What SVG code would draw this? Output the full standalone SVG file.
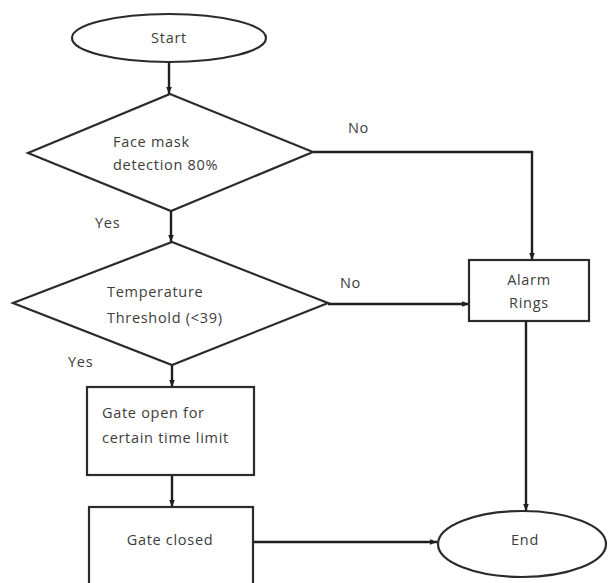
<svg xmlns="http://www.w3.org/2000/svg" width="608" height="583" viewBox="0 0 608 583">
<style>
.shape{fill:#fff;stroke:#2b2b2b;stroke-width:2.2}
.conn{fill:none;stroke:#1f1f1f;stroke-width:2.4}
.t{font-family:"Open Sans","DejaVu Sans",sans-serif;font-size:14.5px;fill:#3c3c3c;letter-spacing:0.7px}
.c{text-anchor:middle}
</style>
<defs>
<marker id="ah" viewBox="0 0 10 10" refX="10" refY="5" markerWidth="7" markerHeight="7" markerUnits="userSpaceOnUse" orient="auto">
<path d="M0,1 L10,5 L0,9 Z" fill="#1f1f1f"/>
</marker>
</defs>
<rect width="608" height="583" fill="#fff"/>
<g id="connectors">
<path class="conn" d="M169,62 L169,94" marker-end="url(#ah)"/>
<path class="conn" d="M171,211 L171,242" marker-end="url(#ah)"/>
<path class="conn" d="M172,365 L172,387" marker-end="url(#ah)"/>
<path class="conn" d="M172,475 L172,507" marker-end="url(#ah)"/>
<path class="conn" d="M313,152 L532,152 L532,260" marker-end="url(#ah)"/>
<path class="conn" d="M328,304 L469,304" marker-end="url(#ah)"/>
<path class="conn" d="M526,321 L526,511" marker-end="url(#ah)"/>
<path class="conn" d="M253,542 L437,542" marker-end="url(#ah)"/>
<text class="t" x="348" y="133">No</text>
<text class="t" x="340" y="288">No</text>
<text class="t" x="95" y="228">Yes</text>
<text class="t" x="68" y="367">Yes</text>
</g>
<g id="start">
<ellipse class="shape" cx="169" cy="38" rx="97" ry="24"/>
<text class="t c" x="169" y="43">Start</text>
</g>
<g id="facemask">
<polygon class="shape" points="170,94 313,152 171,211 28,153"/>
<text class="t" x="113" y="147">Face mask</text>
<text class="t" x="113" y="170">detection 80%</text>
</g>
<g id="temperature">
<polygon class="shape" points="172,242 328,303 172,365 13,303"/>
<text class="t" x="107" y="297">Temperature</text>
<text class="t" x="107" y="323">Threshold (&lt;39)</text>
</g>
<g id="gateopen">
<rect class="shape" x="87" y="387" width="167" height="88"/>
<text class="t" x="102" y="418">Gate open for</text>
<text class="t" x="102" y="443">certain time limit</text>
</g>
<g id="gateclosed">
<rect class="shape" x="89" y="507" width="164" height="90"/>
<text class="t c" x="170" y="545">Gate closed</text>
</g>
<g id="alarm">
<rect class="shape" x="469" y="260" width="120" height="61"/>
<text class="t c" x="529" y="285">Alarm</text>
<text class="t c" x="529" y="308">Rings</text>
</g>
<g id="end">
<ellipse class="shape" cx="522" cy="544" rx="84" ry="33"/>
<text class="t c" x="525" y="545">End</text>
</g>
</svg>
